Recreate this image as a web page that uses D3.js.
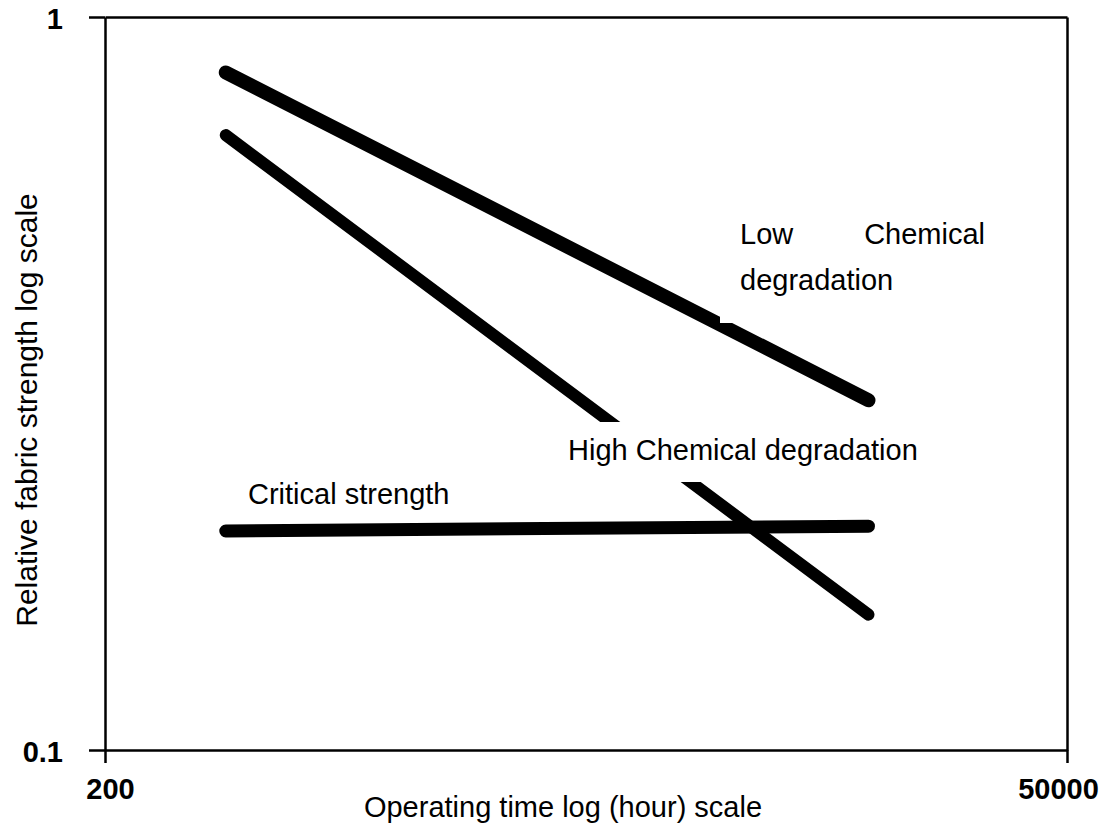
<!DOCTYPE html>
<html>
<head>
<meta charset="utf-8">
<script src="https://cdn.jsdelivr.net/npm/d3@7"></script>
<style>
  body { margin: 0; background: #fff; }
  svg { display: block; font-family: "Liberation Sans", Arial, sans-serif; }
</style>
</head>
<body>
<svg id="chart" width="1115" height="825"></svg>
<script>
// operating time (hours), both ends of every line
const hours = [400, 16000];
// relative fabric strength at those two times
const lowChem = [0.84, 0.30];
const highChem = [0.69, 0.153];
const critical = [0.199, 0.202];

const xTicks = [200, 50000];
const yTicks = [0.1, 1];

const series = [
  { name: "low", values: lowChem, width: 14 },
  { name: "high", values: highChem, width: 12 },
  { name: "critical", values: critical, width: 13 }
];

const svg = d3.select("#chart");
const m = { left: 105, right: 1067, top: 17, bottom: 750 };

const x = d3.scaleLog().domain([200, 50000]).range([m.left, m.right]);
const y = d3.scaleLog().domain([0.1, 1]).range([m.bottom, m.top]);

// frame: top and right sides have no ticks
svg.append("g")
  .attr("transform", `translate(0,${m.top})`)
  .call(d3.axisTop(x).tickValues([]).tickSizeOuter(0));
svg.append("g")
  .attr("transform", `translate(${m.right},0)`)
  .call(d3.axisRight(y).tickValues([]).tickSizeOuter(0));

const gx = svg.append("g")
  .attr("transform", `translate(0,${m.bottom})`)
  .call(d3.axisBottom(x).tickValues(xTicks).tickFormat(d3.format("d"))
    .tickSize(13).tickPadding(15).tickSizeOuter(0));
const gy = svg.append("g")
  .attr("transform", `translate(${m.left},0)`)
  .call(d3.axisLeft(y).tickValues(yTicks).tickFormat(d => d)
    .tickSize(16).tickPadding(26).tickSizeOuter(0));

[gx, gy].forEach(g => {
  g.selectAll(".tick line").attr("stroke-width", 2.5);
  g.selectAll(".tick text")
    .attr("font-family", "Liberation Sans, Arial, sans-serif")
    .attr("font-size", 29).attr("font-weight", "bold").attr("fill", "#000");
});
svg.selectAll(".domain").attr("stroke-width", 2.5);
// nudge the end labels inward a little like the original
gx.selectAll(".tick text").attr("dx", (d, i) => i === 0 ? 5 : -9);
gy.selectAll(".tick text").attr("dy", "0.4em");

// the three lines
const line = d3.line().x((d, i) => x(hours[i])).y(d => y(d));
svg.append("g").selectAll("path")
  .data(series)
  .join("path")
  .attr("d", d => line(d.values))
  .attr("fill", "none")
  .attr("stroke", "#000")
  .attr("stroke-width", d => d.width)
  .attr("stroke-linecap", "round");

// labels, on white boxes that hide what is behind them
const lab = svg.append("g").attr("font-size", 29).attr("fill", "#000");

lab.append("rect").attr("x", 720).attr("y", 205).attr("width", 285).attr("height", 118).attr("fill", "#fff");
lab.append("text").attr("x", 740).attr("y", 244).text("Low");
lab.append("text").attr("x", 985).attr("y", 244).attr("text-anchor", "end").text("Chemical");
lab.append("text").attr("x", 740).attr("y", 290).text("degradation");

lab.append("rect").attr("x", 560).attr("y", 422).attr("width", 370).attr("height", 60).attr("fill", "#fff");
lab.append("text").attr("x", 568).attr("y", 460).text("High Chemical degradation");

lab.append("text").attr("x", 248).attr("y", 504).text("Critical strength");

// axis titles
svg.append("text")
  .attr("x", 563).attr("y", 817)
  .attr("text-anchor", "middle").attr("font-size", 29)
  .text("Operating time log (hour) scale");
svg.append("text")
  .attr("transform", "translate(37,410) rotate(-90)")
  .attr("text-anchor", "middle").attr("font-size", 30)
  .text("Relative fabric strength log scale");
</script>
</body>
</html>
